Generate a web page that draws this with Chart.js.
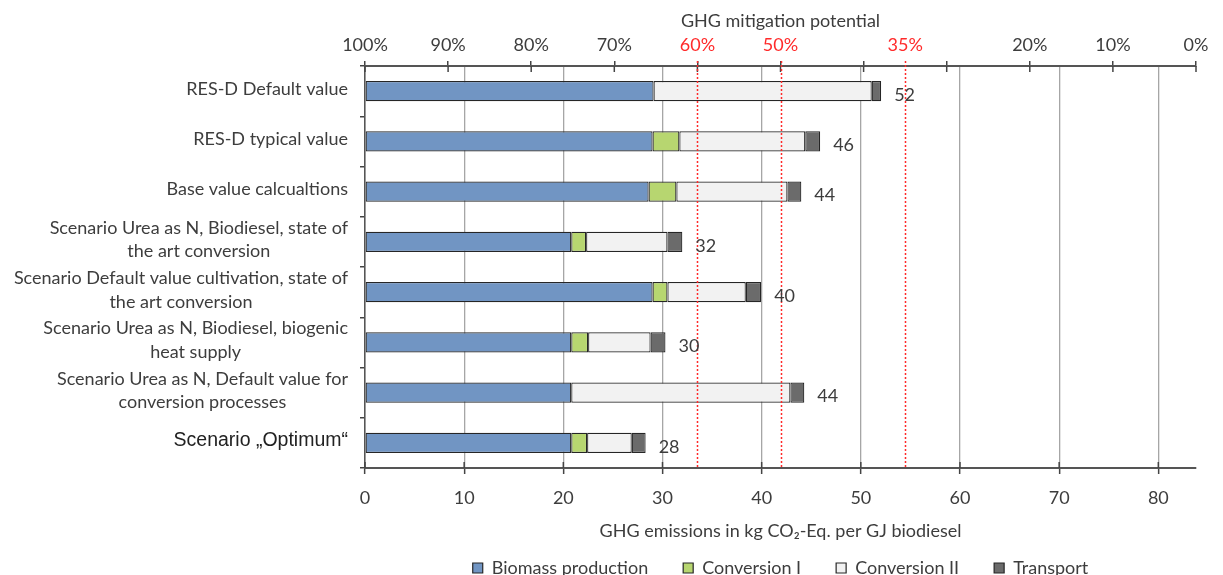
<!DOCTYPE html>
<html>
<head>
<meta charset="utf-8">
<title>GHG emissions biodiesel</title>
<script src="https://cdn.jsdelivr.net/npm/chart.js@4.4.1/dist/chart.umd.min.js"></script>
<style>
  html, body { margin: 0; padding: 0; background: #fff; overflow: hidden; }
  #wrap { position: relative; width: 1223px; height: 607px; }
</style>
</head>
<body>
<div id="wrap"><canvas id="ghgChart"></canvas></div>
<script>
// scenarios (left axis), multi-line labels as arrays
const categories = [
  "RES-D Default value",
  "RES-D typical value",
  "Base value calcualtions",
  ["Scenario Urea as N, Biodiesel, state of", "the art conversion"],
  ["Scenario Default value cultivation, state of", "the art conversion"],
  ["Scenario Urea as N, Biodiesel, biogenic", "heat supply"],
  ["Scenario Urea as N, Default value for", "conversion processes"],
  "Scenario \u201EOptimum\u201C"
];

// kg CO2-Eq. per GJ biodiesel
const biomassProduction = [29.1, 29.0, 28.6, 20.8, 29.0, 20.8, 20.8, 20.8];
const conversionI       = [0,    2.7,  2.8,  1.5,  1.5,  1.7,  0,    1.6];
const conversionII      = [22.0, 12.7, 11.2, 8.2,  7.9,  6.3,  22.1, 4.5];
const transport         = [0.95, 1.5,  1.4,  1.5,  1.55, 1.5,  1.4,  1.4];

// bottom axis ticks
const emissionTicks = [0, 10, 20, 30, 40, 50, 60, 70, 80];

// fossil comparator = 0 % mitigation
const fossilComparator = 83.8;
const mitigationTicks  = [100, 90, 80, 70, 60, 50, 40, 35, 30, 20, 10, 0];
const mitigationLabels = ["100%", "90%", "80%", "70%", "60%", "50%", "", "35%", "", "20%", "10%", "0%"];
const thresholds = [60, 50, 35];

const textColor = "#3d3d3d";
const red = "#ff2a2a";
const lato = { family: "Lato, 'Open Sans', sans-serif", size: 18 };
const arial = { family: "'Liberation Sans', Arial, sans-serif", size: 19.5 };
const legendPadding = 35;

const mitigationValue = m => fossilComparator * (1 - m / 100);

// extra drawing: scenario labels, threshold lines, tick marks, totals
const overlay = {
  id: "overlay",
  afterLayout(chart) {
    // centre the legend under the plot area and pull it up to the axis title
    const lg = chart.legend, area = chart.chartArea;
    const d = (area.left + area.right) / 2 - (lg.left + lg.right) / 2;
    const dy = -(legendPadding - 15);
    lg.left += d;
    lg.right += d;
    lg.top += dy;
    lg.bottom += dy;
  },
  afterDatasetsDraw(chart) {
    const ctx = chart.ctx;
    const area = chart.chartArea;
    const x = chart.scales.x, x2 = chart.scales.x2, y = chart.scales.y;
    ctx.save();

    // ticks crossing the axis lines
    ctx.strokeStyle = "#444";
    ctx.lineWidth = 1.5;
    mitigationTicks.forEach(m => {
      if (m === 35) return;
      const px = x2.getPixelForValue(mitigationValue(m));
      ctx.beginPath(); ctx.moveTo(px, area.top); ctx.lineTo(px, area.top + 6); ctx.stroke();
    });
    emissionTicks.forEach(v => {
      const px = x.getPixelForValue(v);
      ctx.beginPath(); ctx.moveTo(px, area.bottom - 6); ctx.lineTo(px, area.bottom); ctx.stroke();
    });

    // red dotted threshold lines
    ctx.strokeStyle = red;
    ctx.lineWidth = 1.5;
    ctx.setLineDash([2, 2]);
    thresholds.forEach(m => {
      const px = Math.round(x2.getPixelForValue(mitigationValue(m))) + 0.5;
      ctx.beginPath(); ctx.moveTo(px, area.top - 5); ctx.lineTo(px, area.bottom); ctx.stroke();
    });
    ctx.setLineDash([]);

    // totals right of each bar
    const last = chart.getDatasetMeta(chart.data.datasets.length - 1);
    ctx.fillStyle = textColor;
    ctx.font = `${lato.size}px ${lato.family}`;
    ctx.textAlign = "left";
    ctx.textBaseline = "middle";
    last.data.forEach((bar, i) => {
      const total = chart.data.datasets.reduce((s, ds) => s + ds.data[i], 0);
      ctx.fillText(String(Math.round(total)), bar.x + 13, bar.y + 4);
    });

    // scenario labels: block right aligned, lines centred in the block
    const right = y.right - 17;
    const lineGap = 23.5;
    categories.forEach((lab, i) => {
      const lines = Array.isArray(lab) ? lab : [lab];
      const f = i === categories.length - 1 ? arial : lato;
      ctx.font = `${f.size}px ${f.family}`;
      ctx.fillStyle = i === categories.length - 1 ? "#222" : textColor;
      ctx.textAlign = "center";
      const w = Math.max(...lines.map(l => ctx.measureText(l).width));
      const cx = right - w / 2;
      const y0 = y.getPixelForTick(i) - 2 - (lines.length - 1) * lineGap / 2;
      lines.forEach((l, k) => ctx.fillText(l, cx, y0 + k * lineGap));
    });
    ctx.restore();
  }
};

new Chart(document.getElementById("ghgChart").getContext("2d"), {
  type: "bar",
  data: {
    labels: categories,
    datasets: [
      { label: "Biomass production", data: biomassProduction, backgroundColor: "#7195c3" },
      { label: "Conversion I", data: conversionI, backgroundColor: "#b7d670" },
      { label: "Conversion II", data: conversionII, backgroundColor: "#f2f2f2" },
      { label: "Transport", data: transport, backgroundColor: "#6b6b6b" }
    ]
  },
  options: {
    indexAxis: "y",
    responsive: true,
    maintainAspectRatio: false,
    animation: false,
    layout: { padding: { left: 0, right: 27, top: 0, bottom: 0 } },
    datasets: {
      bar: {
        barPercentage: 0.4,
        categoryPercentage: 1,
        borderColor: "#262626",
        borderWidth: 1.2,
        borderSkipped: false
      }
    },
    scales: {
      x: {
        stacked: true,
        position: "bottom",
        min: 0,
        max: fossilComparator,
        afterBuildTicks: s => { s.ticks = emissionTicks.map(v => ({ value: v })); },
        afterFit: s => { s.height = 76; },
        grid: { color: "#a6a6a6", lineWidth: 1.3, tickLength: 6, tickColor: "#444", tickWidth: 1.5 },
        border: { color: "#555", width: 2 },
        ticks: { color: textColor, font: lato, padding: 13, maxRotation: 0, autoSkip: false },
        title: {
          display: true,
          text: "GHG emissions in kg CO\u2082-Eq. per GJ biodiesel",
          color: textColor,
          font: lato,
          padding: { top: 0, bottom: 2 }
        }
      },
      x2: {
        position: "top",
        min: 0,
        max: fossilComparator,
        afterBuildTicks: s => { s.ticks = mitigationTicks.map(m => ({ value: mitigationValue(m) })); },
        afterFit: s => { s.height = 66; },
        grid: {
          drawOnChartArea: false,
          tickLength: 5,
          lineWidth: 1.5,
          color: c => mitigationTicks[c.index] === 35 ? "rgba(0,0,0,0)" : "#444"
        },
        border: { color: "#555", width: 2 },
        ticks: {
          callback: (v, i) => mitigationLabels[i],
          color: c => thresholds.includes(mitigationTicks[c.index]) ? red : textColor,
          font: lato,
          padding: 5,
          maxRotation: 0,
          autoSkip: false
        },
        title: {
          display: true,
          text: "GHG mitigation potential",
          color: textColor,
          font: lato,
          padding: { top: 10, bottom: 0 }
        }
      },
      y: {
        stacked: true,
        afterFit: s => { s.width = 365; },
        grid: { drawOnChartArea: false, tickLength: 5, color: "#444", lineWidth: 1.5, offset: true },
        border: { color: "#555", width: 1.5 },
        ticks: { display: false }
      }
    },
    plugins: {
      legend: {
        position: "bottom",
        labels: { boxWidth: 10, boxHeight: 10, padding: legendPadding, color: textColor, font: lato }
      },
      tooltip: { enabled: false }
    }
  },
  plugins: [overlay]
});
</script>
</body>
</html>
